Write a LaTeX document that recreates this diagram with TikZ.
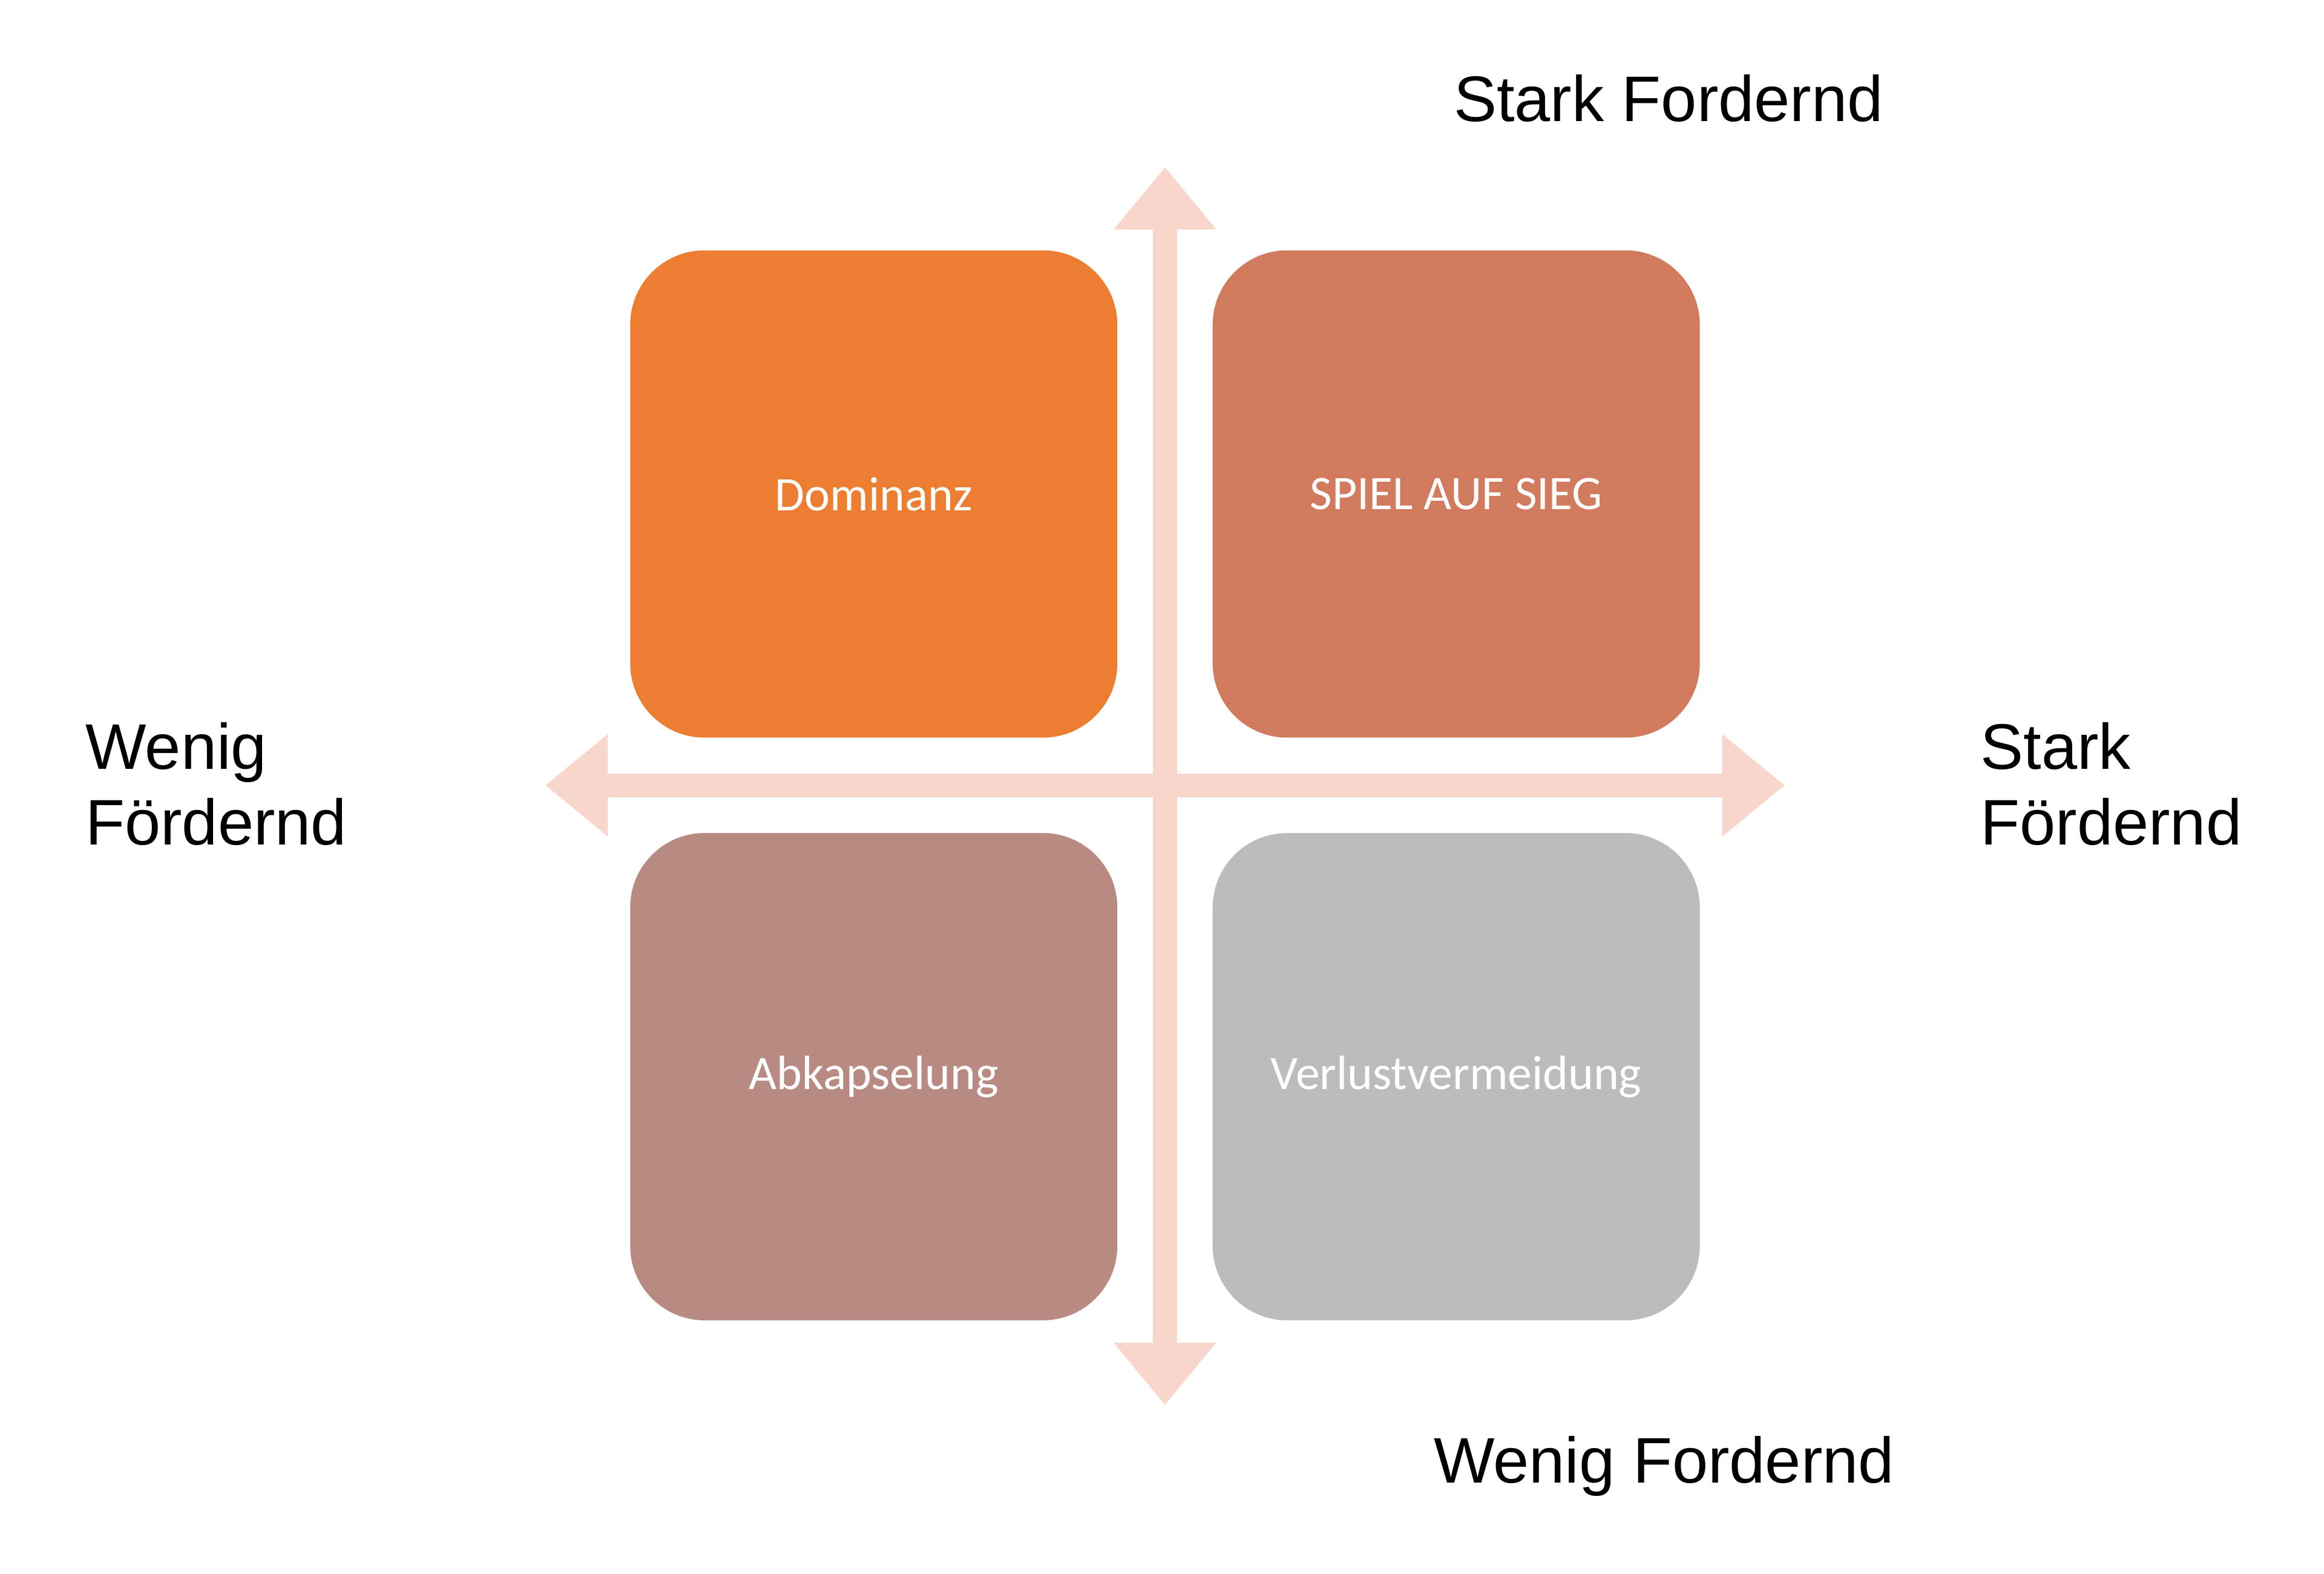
\documentclass[tikz,border=0pt]{standalone}
\usepackage{fontspec}
\setmainfont{Liberation Sans}
\newfontfamily\boxfont{Carlito}
\usetikzlibrary{arrows.meta,positioning}
\definecolor{orangeA}{HTML}{ED7D31}
\definecolor{rustA}{HTML}{D17A5D}
\definecolor{roseA}{HTML}{B98A82}
\definecolor{greyA}{HTML}{BCBCBA}
\definecolor{axisA}{HTML}{F8D6CC}
\begin{document}
\begin{tikzpicture}[>={Triangle[width=6.6mm,length=4.2mm]},
  quad/.style={rectangle,rounded corners=5mm,minimum size=3.27cm,inner sep=0pt,
    text=white,font=\boxfont\fontsize{9.2}{11}\selectfont},
  axis/.style={draw=axisA,line width=1.6mm,->},
  lbl/.style={font=\fontsize{12.3}{14.5}\selectfont,align=left}]

\useasboundingbox (0,0) rectangle (15.6,10.56);

\node[quad,fill=orangeA] (dom)  at (5.865,7.245) {Dominanz};
\node[quad,fill=rustA]   (sieg) at (9.775,7.245) {SPIEL AUF SIEG};
\node[quad,fill=roseA]   (abk)  at (5.865,3.335) {Abkapselung};
\node[quad,fill=greyA]   (verl) at (9.775,3.335) {Verlustvermeidung};

\coordinate (c)   at (7.82,5.29);
\coordinate (top) at (7.82,9.44);
\coordinate (bot) at (7.82,1.13);
\coordinate (lft) at (3.66,5.29);
\coordinate (rgt) at (11.98,5.29);

\draw[axis] (c) -- (top);
\draw[axis] (c) -- (bot);
\draw[axis] (c) -- (lft);
\draw[axis] (c) -- (rgt);

\node[lbl] (sfTop) at (11.2,9.9) {Stark Fordernd};
\node[lbl] (wfBot) at (11.17,0.72) {Wenig Fordernd};
\node[lbl,anchor=west] (wfL) at (0.45,5.3) {Wenig\\Fördernd};
\node[lbl,anchor=west] (sfR) at (13.17,5.3) {Stark\\Fördernd};

\end{tikzpicture}
\end{document}
